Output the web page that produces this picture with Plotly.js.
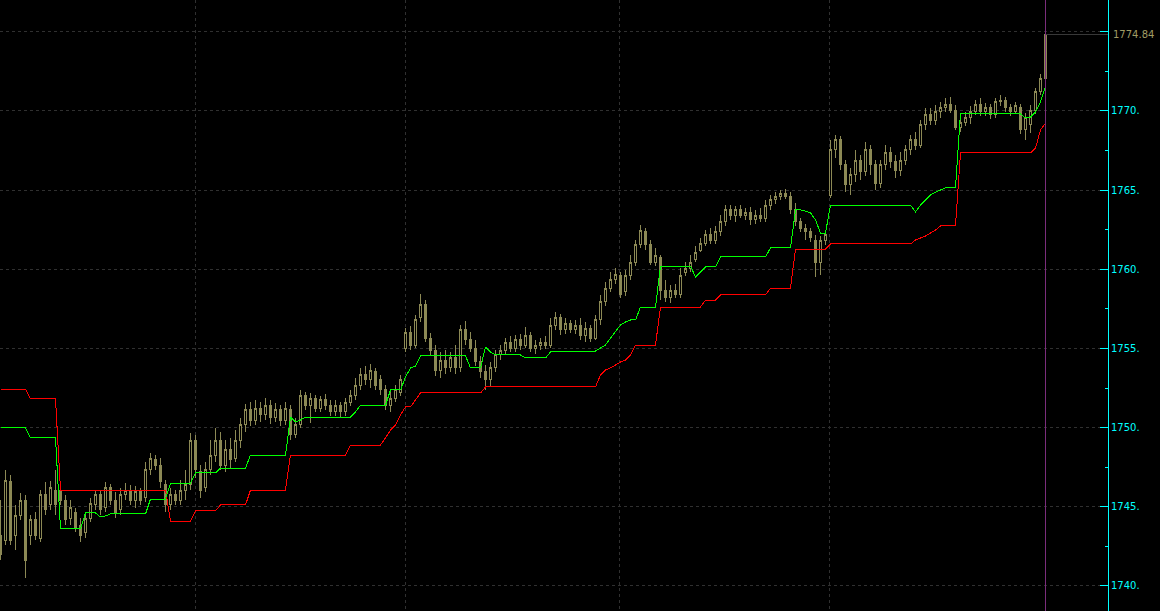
<!DOCTYPE html>
<html>
<head>
<meta charset="utf-8">
<script src="https://cdn.plot.ly/plotly-3.0.1.min.js"></script>
<style>
html,body{margin:0;padding:0;background:#000;}
#chart{width:1160px;height:611px;}
#chart .scatterlayer path, #chart .boxlayer path, #chart .layer-above path, #chart .gridlayer path, #chart .xlines-above, #chart .ylines-above, #chart .ytick, #chart .minor-ytick {shape-rendering: crispEdges;}
</style>
</head>
<body>
<div id="chart"></div>
<script>
// ---- data (bar index, OHLC prices) ----
const barOpen = [
1743.22,1742.90,1746.57,1743.22,1744.48,1745.43,1743.22,1744.17,1743.03,1745.75,
1745.12,1746.06,1746.06,1745.43,1744.29,1744.67,1743.85,1743.35,1744.29,1745.12,
1745.75,1744.93,1746.19,1745.43,1744.80,1745.75,1746.06,1745.43,1745.94,1745.56,
1747.33,1747.96,1747.64,1746.38,1745.12,1745.75,1745.43,1746.06,1746.38,1749.22,
1747.20,1746.19,1747.33,1748.27,1749.22,1747.64,1748.59,1748.08,1749.22,1750.17,
1751.12,1750.48,1751.24,1750.80,1751.43,1750.61,1751.12,1750.48,1751.12,1749.54,
1750.17,1752.06,1751.43,1751.87,1751.24,1751.75,1751.43,1750.99,1751.43,1750.99,
1751.62,1752.06,1752.69,1753.33,1753.01,1753.52,1753.01,1752.38,1751.43,1751.87,
1752.25,1755.03,1756.04,1755.22,1756.93,1757.75,1755.66,1754.90,1753.64,1754.27,
1753.77,1754.40,1753.77,1756.17,1755.54,1755.03,1754.15,1753.52,1753.01,1753.77,
1754.59,1754.90,1755.41,1755.03,1755.54,1755.22,1755.85,1755.03,1755.22,1755.41,
1755.22,1756.48,1756.93,1756.17,1756.55,1756.17,1756.48,1755.85,1756.29,1755.66,
1756.80,1757.94,1758.82,1759.33,1759.58,1758.57,1759.64,1760.46,1761.54,1762.36,
1761.54,1760.46,1760.72,1758.69,1758.19,1758.69,1758.38,1759.83,1760.08,1760.59,
1761.22,1761.66,1762.17,1761.85,1762.36,1762.99,1763.75,1763.43,1763.75,1763.43,
1763.62,1763.12,1763.43,1763.24,1764.06,1764.38,1764.63,1764.76,1764.63,1763.75,
1762.99,1762.61,1762.36,1761.85,1760.46,1761.85,1764.69,1767.54,1768.17,1766.59,
1765.33,1765.96,1766.90,1766.15,1767.54,1766.59,1765.45,1766.59,1767.41,1766.78,
1766.27,1766.90,1767.54,1768.17,1767.85,1769.12,1769.75,1769.43,1769.94,1770.19,
1770.38,1770.06,1768.93,1769.30,1769.56,1769.94,1770.38,1769.94,1770.19,1769.75,
1770.57,1770.69,1770.19,1769.94,1770.19,1768.80,1769.12,1770.06,1771.20,1772.08
];
const barHigh = [
1745.43,1747.33,1747.01,1745.12,1745.87,1745.75,1744.48,1744.67,1746.06,1746.57,
1746.63,1747.33,1746.50,1745.75,1745.43,1744.93,1744.29,1744.48,1745.56,1746.06,
1746.06,1746.57,1746.44,1745.94,1746.19,1746.50,1746.38,1746.32,1746.19,1747.83,
1748.40,1748.27,1748.08,1746.69,1746.19,1746.06,1746.69,1747.33,1749.66,1749.54,
1747.64,1747.83,1749.22,1749.98,1749.73,1749.22,1749.35,1749.85,1750.61,1751.49,
1751.62,1751.75,1751.62,1751.87,1751.75,1751.56,1751.43,1751.62,1751.43,1750.61,
1752.38,1752.25,1752.19,1752.06,1752.00,1752.13,1751.75,1751.75,1751.62,1751.87,
1752.38,1753.14,1753.77,1753.89,1754.02,1753.77,1753.33,1752.69,1752.25,1752.69,
1753.33,1756.29,1756.42,1757.12,1758.44,1758.06,1755.98,1755.22,1754.78,1754.90,
1754.78,1755.22,1756.48,1756.74,1756.04,1755.54,1754.53,1753.96,1754.15,1754.90,
1755.22,1755.66,1755.79,1755.85,1755.92,1756.36,1756.04,1755.54,1755.66,1755.79,
1756.93,1757.30,1757.18,1756.93,1756.80,1756.80,1756.93,1756.67,1756.48,1757.12,
1758.38,1759.20,1759.83,1760.08,1759.83,1759.96,1760.90,1761.85,1762.80,1762.61,
1761.85,1761.35,1760.90,1759.33,1759.01,1759.07,1760.08,1760.46,1760.90,1761.47,
1761.98,1762.48,1762.61,1762.74,1763.43,1764.06,1764.06,1764.00,1764.06,1763.87,
1763.94,1763.75,1763.87,1764.38,1764.69,1764.88,1765.01,1765.07,1764.88,1764.19,
1763.24,1762.86,1762.61,1762.17,1762.10,1762.48,1768.17,1768.48,1768.42,1766.90,
1766.40,1767.54,1767.22,1768.04,1767.85,1766.90,1766.90,1767.85,1767.73,1767.22,
1767.41,1767.85,1768.48,1768.67,1769.43,1770.19,1770.19,1770.38,1770.57,1770.82,
1770.88,1770.38,1769.75,1769.94,1770.32,1770.69,1770.82,1770.50,1770.44,1770.82,
1771.01,1770.88,1770.44,1770.57,1770.44,1769.87,1770.38,1771.45,1772.34,1774.84
];
const barLow = [
1741.64,1742.59,1742.59,1742.27,1744.17,1740.50,1742.59,1742.90,1742.78,1744.48,
1744.80,1744.48,1745.12,1743.85,1743.85,1743.41,1742.78,1743.03,1744.04,1744.80,
1744.48,1744.67,1745.12,1744.29,1744.48,1745.43,1745.12,1744.93,1745.12,1745.30,
1747.01,1747.33,1746.19,1744.67,1744.80,1745.12,1745.12,1745.43,1746.06,1746.82,
1745.56,1745.94,1747.01,1747.83,1747.33,1747.20,1747.45,1747.83,1748.72,1749.73,
1750.10,1750.17,1750.36,1750.48,1750.23,1750.36,1750.10,1750.17,1749.22,1749.35,
1749.98,1751.12,1750.29,1750.99,1750.99,1751.12,1750.74,1750.74,1750.61,1750.74,
1751.37,1751.75,1752.38,1752.69,1752.50,1752.38,1752.06,1751.12,1750.99,1751.62,
1752.00,1754.78,1754.90,1755.03,1756.67,1755.41,1754.59,1753.26,1753.14,1753.39,
1753.52,1753.39,1753.52,1755.22,1754.78,1753.89,1753.14,1752.38,1752.63,1753.52,
1754.27,1754.59,1754.78,1754.78,1754.90,1755.03,1754.78,1754.65,1754.90,1754.97,
1755.03,1756.17,1755.85,1755.92,1755.98,1755.92,1755.54,1755.41,1755.41,1755.54,
1756.48,1757.68,1758.57,1759.07,1758.19,1758.32,1759.33,1760.21,1761.35,1761.22,
1760.27,1760.21,1758.06,1757.94,1757.87,1758.19,1758.19,1759.58,1759.83,1760.46,
1761.09,1761.47,1761.60,1761.60,1762.10,1762.74,1763.12,1762.99,1763.24,1763.12,
1762.80,1762.86,1762.99,1762.99,1763.75,1764.13,1764.38,1764.44,1763.49,1762.74,
1762.36,1761.85,1761.73,1759.52,1759.64,1761.54,1764.50,1767.03,1766.27,1764.88,
1764.69,1765.52,1765.64,1765.89,1765.96,1765.01,1765.14,1766.27,1766.40,1765.77,
1765.89,1766.59,1767.22,1767.54,1767.66,1768.80,1769.12,1769.12,1769.56,1769.94,
1769.87,1768.80,1768.67,1769.05,1769.18,1769.75,1769.68,1769.68,1769.49,1769.56,
1770.32,1769.94,1769.68,1769.81,1768.55,1768.17,1768.61,1769.81,1771.01,1771.96
];
const barClose = [
1741.96,1746.69,1742.90,1744.48,1745.43,1741.64,1744.17,1743.22,1745.75,1744.80,
1746.19,1745.12,1745.43,1744.17,1744.93,1743.66,1743.22,1744.29,1745.24,1745.75,
1744.80,1746.19,1745.43,1744.67,1745.75,1746.06,1745.43,1745.94,1745.43,1747.33,
1748.08,1747.64,1746.57,1745.12,1745.75,1745.43,1746.06,1746.38,1749.22,1747.33,
1746.06,1747.33,1748.27,1749.22,1747.64,1748.59,1747.96,1749.22,1750.17,1751.12,
1750.48,1751.24,1750.80,1751.43,1750.61,1751.12,1750.48,1751.24,1749.54,1750.17,
1752.06,1751.43,1751.87,1751.24,1751.75,1751.43,1750.99,1751.43,1750.99,1751.62,
1752.06,1752.69,1753.33,1753.01,1753.64,1752.69,1752.38,1751.43,1751.87,1752.38,
1753.01,1756.04,1755.22,1756.80,1757.75,1755.66,1754.90,1753.64,1754.27,1753.77,
1754.40,1753.77,1756.17,1755.54,1755.03,1754.15,1753.52,1753.01,1753.77,1754.59,
1754.90,1755.41,1755.03,1755.54,1755.22,1755.85,1755.03,1755.22,1755.41,1755.22,
1756.48,1756.93,1756.17,1756.55,1756.17,1756.48,1755.85,1756.29,1755.66,1756.80,
1757.94,1758.82,1759.33,1759.70,1758.38,1759.64,1760.46,1761.54,1762.48,1761.54,
1760.46,1760.90,1758.69,1758.19,1758.69,1758.38,1759.64,1760.08,1760.46,1761.09,
1761.66,1762.17,1761.85,1762.36,1762.99,1763.75,1763.43,1763.75,1763.43,1763.62,
1763.12,1763.43,1763.24,1764.06,1764.38,1764.63,1764.76,1764.63,1763.75,1762.99,
1762.61,1762.36,1761.98,1760.46,1761.85,1762.17,1767.54,1768.17,1766.59,1765.33,
1765.96,1766.90,1766.15,1767.54,1766.59,1765.45,1766.59,1767.41,1766.78,1766.27,
1766.90,1767.54,1768.17,1767.85,1769.12,1769.75,1769.43,1769.94,1770.19,1770.38,
1770.06,1768.93,1769.30,1769.56,1769.94,1770.38,1769.94,1770.19,1769.75,1770.57,
1770.69,1770.19,1769.94,1770.32,1768.80,1769.56,1770.06,1771.20,1772.08,1774.84
];

// Green trailing line (bar index, price) at its turning points
const greenIdx = [0,5,6,11,12,16,17,19,20,21,22,29,30,33,34,38,39,43,44,49,50,57,58,59,60,61,70,71,72,77,78,80,81,82,83,84,93,94,96,97,98,99,104,105,109,110,111,112,119,120,121,122,123,124,125,126,127,128,131,132,138,139,140,141,143,144,153,154,158,159,160,161,162,163,164,165,166,182,183,184,185,186,187,188,189,191,192,203,204,205,206,207,208,209];
const greenVal = [1749.98,1749.98,1749.35,1749.35,1743.60,1743.60,1744.61,1744.61,1744.36,1744.42,1744.55,1744.55,1745.49,1745.49,1746.50,1746.50,1747.14,1747.14,1747.45,1747.45,1748.27,1748.27,1750.67,1750.36,1750.48,1750.67,1750.67,1750.99,1751.43,1751.43,1752.38,1752.38,1753.20,1753.77,1753.89,1754.53,1754.53,1753.77,1753.77,1755.09,1754.78,1754.59,1754.59,1754.40,1754.40,1754.78,1754.78,1754.84,1754.84,1755.03,1755.22,1755.66,1756.04,1756.48,1756.67,1756.80,1756.80,1757.62,1757.62,1760.21,1760.21,1759.52,1759.83,1760.15,1760.15,1760.78,1760.78,1761.35,1761.35,1763.75,1763.75,1763.68,1763.56,1763.12,1762.29,1762.29,1764.06,1764.06,1763.62,1764.06,1764.38,1764.69,1764.88,1765.01,1765.14,1765.14,1769.87,1769.87,1769.81,1769.56,1769.62,1769.94,1770.57,1771.52];

// Red trailing line (bar index, price) at its turning points
const redIdx = [0,5,6,11,12,33,34,38,39,43,44,49,50,57,58,69,70,76,77,78,79,80,81,82,83,84,96,97,119,120,121,122,123,124,125,126,127,131,132,140,141,143,144,153,154,158,159,165,166,182,183,184,185,186,187,188,191,192,206,207,208,209];
const redVal = [1752.44,1752.44,1751.81,1751.81,1746.06,1746.06,1744.10,1744.10,1744.74,1744.74,1745.12,1745.12,1746.06,1746.06,1748.27,1748.27,1748.90,1748.90,1749.35,1749.85,1750.17,1750.80,1751.31,1751.31,1751.75,1752.19,1752.19,1752.57,1752.57,1753.33,1753.64,1753.77,1753.96,1754.15,1754.27,1754.59,1755.22,1755.22,1757.62,1757.62,1758.06,1758.06,1758.38,1758.38,1758.82,1758.82,1761.28,1761.28,1761.60,1761.60,1761.85,1761.98,1762.10,1762.29,1762.48,1762.74,1762.74,1767.35,1767.35,1767.66,1768.80,1769.24];

// Axis ticks
const priceTicks  = [1740,1745,1750,1755,1760,1765,1770,1775];
const priceLabels = ['1740.','1745.','1750.','1755.','1760.','1765.','1770.',''];
const minorTicks  = [1742.5,1747.5,1752.5,1757.5,1762.5,1767.5,1772.5,1777.5];
const timeGridIdx = [38.9,80.9,123.7,165.7];
const lastPriceLabel = '1774.84';

const barIdx = barClose.map((_, i) => i);
const lastIdx = barIdx[barIdx.length - 1];
const lastClose = barClose[barClose.length - 1];

const OLIVE = '#8c8955';

const traces = [
  {
    type: 'candlestick',
    x: barIdx, open: barOpen, high: barHigh, low: barLow, close: barClose,
    increasing: {line: {color: OLIVE, width: 1}, fillcolor: '#000000'},
    decreasing: {line: {color: OLIVE, width: 1}, fillcolor: OLIVE},
    whiskerwidth: 0,
    hoverinfo: 'skip'
  },
  {
    type: 'scatter', mode: 'lines',
    x: redIdx, y: redVal,
    line: {color: '#ff0000', width: 1},
    hoverinfo: 'skip'
  },
  {
    type: 'scatter', mode: 'lines',
    x: greenIdx, y: greenVal,
    line: {color: '#00ff00', width: 1},
    hoverinfo: 'skip'
  }
];

const layout = {
  width: 1160, height: 611,
  paper_bgcolor: '#000000', plot_bgcolor: '#000000',
  margin: {l: 0, r: 52, t: 0, b: 0, pad: 0},
  showlegend: false,
  hovermode: false,
  boxgap: 0.15,
  xaxis: {
    range: [-0.1, 221.5],
    showticklabels: false, ticks: '',
    tickvals: timeGridIdx,
    showgrid: true, gridcolor: '#303030', griddash: 'dot', gridwidth: 1,
    zeroline: false, showline: false,
    rangeslider: {visible: false},
    fixedrange: true
  },
  yaxis: {
    side: 'right',
    range: [1738.42, 1777.01],
    tickmode: 'array', tickvals: priceTicks, ticktext: priceLabels,
    ticks: 'inside', ticklen: 8, tickwidth: 1, tickcolor: '#00ffff',
    showline: true, linecolor: '#00ffff', linewidth: 1,
    showgrid: true, gridcolor: '#303030', griddash: 'dot', gridwidth: 1,
    zeroline: false,
    tickfont: {family: 'DejaVu Sans', size: 10, color: '#00ffff'},
    minor: {tickvals: minorTicks, ticks: 'inside', ticklen: 3, tickcolor: '#00ffff', showgrid: false},
    fixedrange: true
  },
  shapes: [
    {type: 'line', xref: 'x', yref: 'paper', x0: lastIdx, x1: lastIdx, y0: 0, y1: 1,
     line: {color: '#7b2d7b', width: 1}},
    {type: 'line', xref: 'x', yref: 'y', x0: lastIdx, x1: 221.5, y0: lastClose, y1: lastClose,
     line: {color: '#383838', width: 1}}
  ],
  annotations: [
    {xref: 'paper', yref: 'y', x: 1, y: lastClose, xanchor: 'left', yanchor: 'middle', xshift: 3,
     text: lastPriceLabel, showarrow: false,
     font: {family: 'DejaVu Sans', size: 10, color: '#a09c64'}}
  ]
};

Plotly.newPlot('chart', traces, layout, {displayModeBar: false, staticPlot: true});
</script>
</body>
</html>
